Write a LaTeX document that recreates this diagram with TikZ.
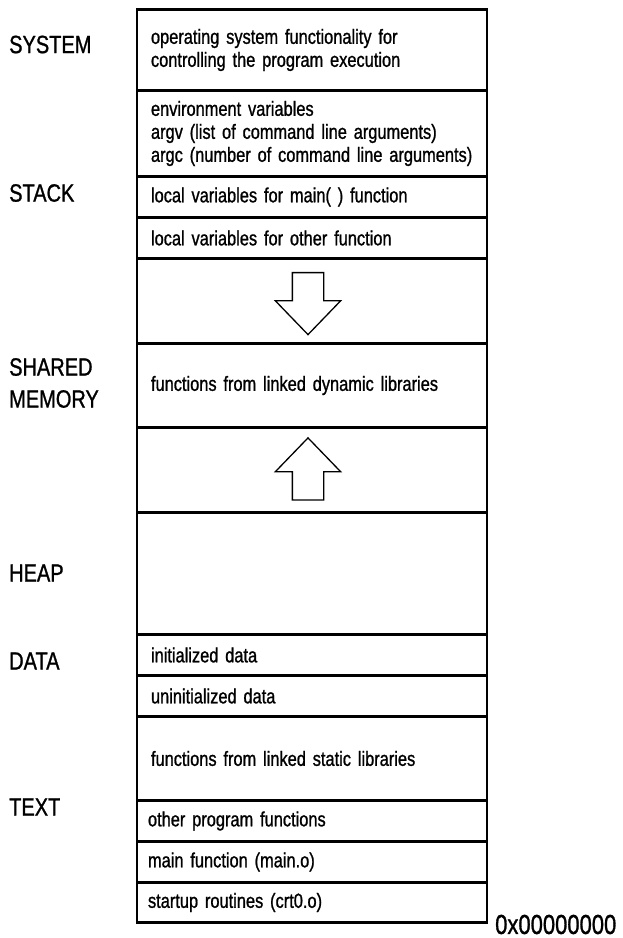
\documentclass[tikz,border=0pt]{standalone}
\usepackage{fontspec}
\setmainfont{Liberation Sans}[FakeStretch=0.8,FakeBold=1]
\usetikzlibrary{positioning,shapes.arrows}
\def\colWidth{350pt}
\def\boxFont{\fontsize{20.5}{23}\selectfont}
\def\labelFont{\fontsize{25}{32}\selectfont}
\tikzset{
  segNode/.style={
    draw,
    line width=2.4pt,
    outer sep=0pt,
    minimum width=\colWidth,
    text width=322pt,
    inner xsep=14pt,
    inner ysep=0pt,
    align=left,
    font=\boxFont
  },
  lowSegNode/.style={segNode,inner xsep=11pt,text width=328pt},
  sideLabel/.style={anchor=west,inner sep=0pt,align=left,font=\labelFont},
  bigArrow/.style={
    draw,
    single arrow,
    line width=1.3pt,
    inner sep=15pt,
    minimum height=62pt,
    minimum width=64pt,
    single arrow head extend=17pt,
    single arrow tip angle=88
  }
}

\begin{document}
\begin{tikzpicture}[x=1pt,y=-1pt]
    \useasboundingbox (0,0) rectangle (623,938);

    % memory column, top to bottom
    \node[segNode,minimum height=81pt,anchor=north west] (sys) at (137,9.5)
      {operating system functionality for\\controlling the program execution};
    \node[segNode,minimum height=86pt,below=0pt of sys] (env)
      {environment variables\\argv (list of command line arguments)\\argc (number of command line arguments)};
    \node[segNode,minimum height=41pt,below=0pt of env] (localMain) {local variables for main( ) function};
    \node[segNode,minimum height=41pt,below=0pt of localMain] (localOther) {local variables for other function};
    \node[segNode,minimum height=85pt,below=0pt of localOther] (growDown) {};
    \node[segNode,minimum height=84pt,below=0pt of growDown] (shared) {functions from linked dynamic libraries};
    \node[segNode,minimum height=85pt,below=0pt of shared] (growUp) {};
    \node[segNode,minimum height=122pt,below=0pt of growUp] (heap) {};
    \node[segNode,minimum height=41pt,below=0pt of heap] (initData) {initialized data};
    \node[segNode,minimum height=41pt,below=0pt of initData] (uninitData) {uninitialized data};
    \node[segNode,minimum height=84pt,below=0pt of uninitData] (staticLib) {functions from linked static libraries};
    \node[lowSegNode,minimum height=41pt,below=0pt of staticLib] (otherFunc) {other program functions};
    \node[lowSegNode,minimum height=41pt,below=0pt of otherFunc] (mainFunc) {main function (main.o)};
    \node[lowSegNode,minimum height=40pt,below=0pt of mainFunc] (startup) {startup routines (crt0.o)};

    % growth arrows
    \node[bigArrow,shape border rotate=270] (downArrow) at (308,295.5) {};
    \node[bigArrow,shape border rotate=90] (upArrow) at (308,477) {};

    % segment names
    \node[sideLabel] (systemLbl) at (9,44.5) {SYSTEM};
    \node[sideLabel] (stackLbl) at (9,193) {STACK};
    \node[sideLabel] (sharedLbl) at (9,383) {SHARED\\MEMORY};
    \node[sideLabel] (heapLbl) at (9,573) {HEAP};
    \node[sideLabel] (dataLbl) at (9,661) {DATA};
    \node[sideLabel] (textLbl) at (9,807) {TEXT};
    \node[sideLabel,font=\fontsize{27.5}{30}\selectfont] (addrLbl) at (495,924.5) {0x00000000};
\end{tikzpicture}
\end{document}
